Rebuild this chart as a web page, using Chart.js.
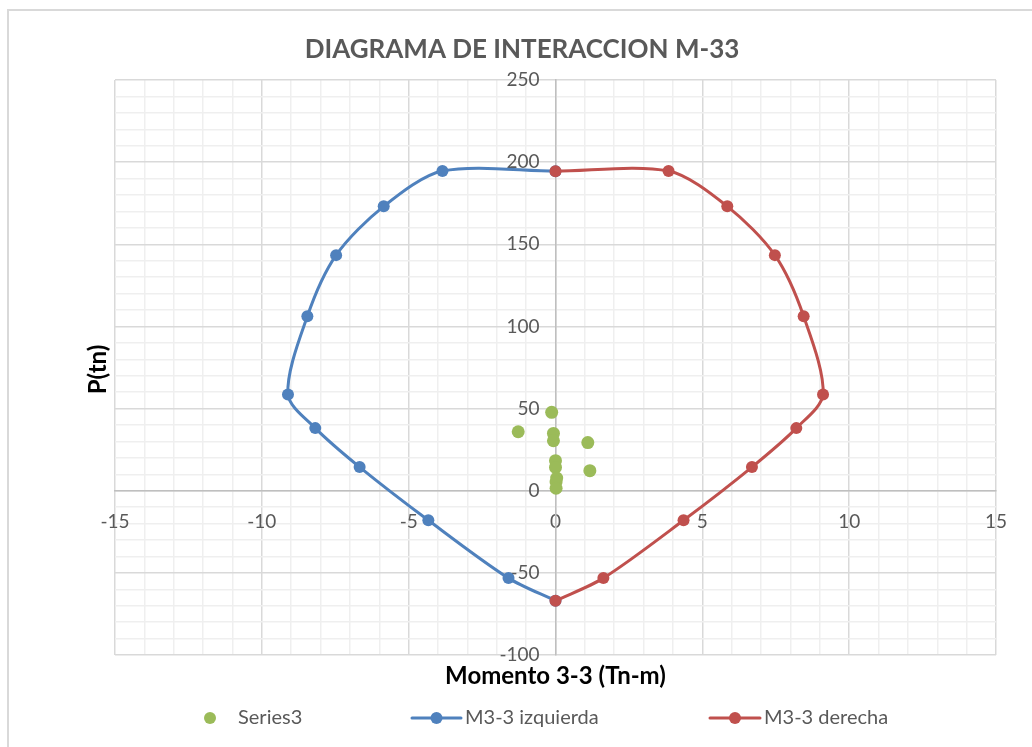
<!DOCTYPE html>
<html>
<head>
<meta charset="utf-8">
<script src="https://cdn.jsdelivr.net/npm/chart.js@4/dist/chart.umd.min.js"></script>
<style>
  html, body { margin: 0; padding: 0; background: #fff; }
  canvas { display: block; }
</style>
</head>
<body>
<canvas id="chart" width="1032" height="747"></canvas>
<script>
// Interaction diagram M-33: moment (Tn-m) vs axial load P (tn)
const chartTitle = 'DIAGRAMA DE INTERACCION M-33';
const xTitle = 'Momento 3-3 (Tn-m)';
const yTitle = 'P(tn)';
const seriesNames = ['Series3', 'M3-3 izquierda', 'M3-3 derecha'];

// Load cases (Series3)
const loadM = [-0.13, -1.27, -0.07, -0.07, 1.10, 0.00, 0.00, 1.17, 0.04, 0.02, 0.02];
const loadP = [47.7, 35.9, 34.9, 30.4, 29.3, 18.3, 14.2, 12.2, 7.7, 5.3, 1.5];

// Left branch of the interaction curve
const leftM = [0, -3.85, -5.85, -7.47, -8.45, -9.11, -8.18, -6.67, -4.33, -1.60, 0];
const leftP = [194.5, 194.6, 173.1, 143.4, 106.2, 58.6, 38.1, 14.4, -18.0, -53.2, -67.0];

// Right branch of the interaction curve
const rightM = [0, 3.85, 5.85, 7.47, 8.45, 9.11, 8.20, 6.69, 4.36, 1.63, 0];
const rightP = [194.5, 194.6, 173.1, 143.4, 106.2, 58.6, 38.1, 14.4, -18.0, -53.2, -67.0];

// Axis ranges and tick steps
const xRange = [-15, 15], xMajor = 5, xMinor = 1;
const yRange = [-100, 250], yMajor = 50, yMinor = 10;

const colors = { load: '#9bbb59', left: '#4f81bd', right: '#c0504d' };
const FONT = 'Lato, "Open Sans", "Liberation Sans", sans-serif';

const toPoints = (xs, ys) => xs.map((x, i) => ({ x, y: ys[i] }));
const isMultiple = (v, step) => Math.abs(v / step - Math.round(v / step)) < 1e-6;

// Value labels of the centred P axis sit a little to the left of the axis line
const yLabelGap = {
  id: 'yLabelGap',
  afterLayout(chart) {
    const s = chart.scales.y;
    if (s && !s.__gapWrapped) {
      const draw = s.drawLabels.bind(s);
      s.drawLabels = function (area) {
        const c = this.ctx;
        c.save();
        c.translate(-16, 0);
        draw(area);
        c.restore();
      };
      s.__gapWrapped = true;
    }
  }
};

// Background, frame, titles and legend
const decorations = {
  id: 'decorations',
  beforeDraw(chart) {
    const ctx = chart.ctx;
    ctx.save();
    ctx.fillStyle = '#ffffff';
    ctx.fillRect(0, 0, chart.width, chart.height);
    ctx.strokeStyle = '#d9d9d9';
    ctx.lineWidth = 2;
    ctx.beginPath();
    ctx.moveTo(8, chart.height + 5);
    ctx.lineTo(8, 10);
    ctx.lineTo(chart.width + 5, 10);
    ctx.stroke();
    ctx.restore();
  },
  afterDraw(chart) {
    const ctx = chart.ctx;
    const area = chart.chartArea;
    ctx.save();
    // Chart title
    ctx.fillStyle = '#595959';
    ctx.font = 'bold 26px ' + FONT;
    ctx.textAlign = 'center';
    ctx.textBaseline = 'alphabetic';
    ctx.fillText(chartTitle, 522, 58);

    // Axis titles
    ctx.fillStyle = '#000000';
    ctx.font = 'bold 24px ' + FONT;
    ctx.fillText(xTitle, (area.left + area.right) / 2, 684);
    ctx.save();
    ctx.translate(106, (area.top + area.bottom) / 2 + 2);
    ctx.rotate(-Math.PI / 2);
    ctx.fillText(yTitle, 0, 0);
    ctx.restore();

    // Legend
    const ly = 718;
    ctx.font = '20px ' + FONT;
    ctx.textAlign = 'left';
    ctx.textBaseline = 'middle';
    const ds = chart.data.datasets;

    ctx.fillStyle = ds[0].backgroundColor;
    ctx.beginPath();
    ctx.arc(210, ly, 6, 0, Math.PI * 2);
    ctx.fill();
    ctx.fillStyle = '#595959';
    ctx.fillText(ds[0].label, 238, ly);

    const lineEntry = (d, x0, x1, tx) => {
      ctx.strokeStyle = d.borderColor;
      ctx.lineWidth = 3;
      ctx.lineCap = 'round';
      ctx.beginPath();
      ctx.moveTo(x0, ly);
      ctx.lineTo(x1, ly);
      ctx.stroke();
      ctx.fillStyle = d.backgroundColor;
      ctx.beginPath();
      ctx.arc((x0 + x1) / 2, ly, 6, 0, Math.PI * 2);
      ctx.fill();
      ctx.fillStyle = '#595959';
      ctx.fillText(d.label, tx, ly);
    };
    lineEntry(ds[1], 412, 461, 465);
    lineEntry(ds[2], 710, 760, 764);
    ctx.restore();
  }
};

new Chart(document.getElementById('chart'), {
  type: 'scatter',
  data: {
    datasets: [
      {
        label: seriesNames[0],
        data: toPoints(loadM, loadP),
        backgroundColor: colors.load,
        borderColor: colors.load,
        pointRadius: 6.5,
        pointBorderWidth: 0,
        showLine: false,
        order: 0
      },
      {
        label: seriesNames[1],
        data: toPoints(leftM, leftP),
        backgroundColor: colors.left,
        borderColor: colors.left,
        borderWidth: 3,
        pointRadius: 6,
        pointBorderWidth: 0,
        showLine: true,
        tension: 0.3,
        order: 2
      },
      {
        label: seriesNames[2],
        data: toPoints(rightM, rightP),
        backgroundColor: colors.right,
        borderColor: colors.right,
        borderWidth: 3,
        pointRadius: 6,
        pointBorderWidth: 0,
        showLine: true,
        tension: 0.3,
        order: 1
      }
    ]
  },
  options: {
    responsive: false,
    animation: false,
    devicePixelRatio: 1,
    layout: { padding: { left: 115, right: 36, top: 80, bottom: 92 } },
    plugins: {
      legend: { display: false },
      title: { display: false },
      tooltip: { enabled: false }
    },
    scales: {
      x: {
        type: 'linear',
        position: { y: 0 },
        min: xRange[0],
        max: xRange[1],
        border: { display: true, color: '#bfbfbf', width: 1.5 },
        grid: {
          drawTicks: false,
          color: c => isMultiple(c.tick.value, xMajor) ? '#d9d9d9' : '#efefef',
          lineWidth: 1.5
        },
        ticks: {
          stepSize: xMinor,
          autoSkip: false,
          maxRotation: 0,
          padding: 20,
          color: '#595959',
          font: { family: FONT, size: 19 },
          callback: v => isMultiple(v, xMajor) ? String(Math.round(v)) : ''
        }
      },
      y: {
        type: 'linear',
        position: { x: 0 },
        min: yRange[0],
        max: yRange[1],
        border: { display: true, color: '#bfbfbf', width: 1.5 },
        grid: {
          drawTicks: false,
          color: c => isMultiple(c.tick.value, yMajor) ? '#d9d9d9' : '#efefef',
          lineWidth: 1.5
        },
        ticks: {
          stepSize: yMinor,
          autoSkip: false,
          color: '#595959',
          font: { family: FONT, size: 19 },
          callback: v => isMultiple(v, yMajor) ? String(Math.round(v)) : ''
        }
      }
    }
  },
  plugins: [yLabelGap, decorations]
});
</script>
</body>
</html>
